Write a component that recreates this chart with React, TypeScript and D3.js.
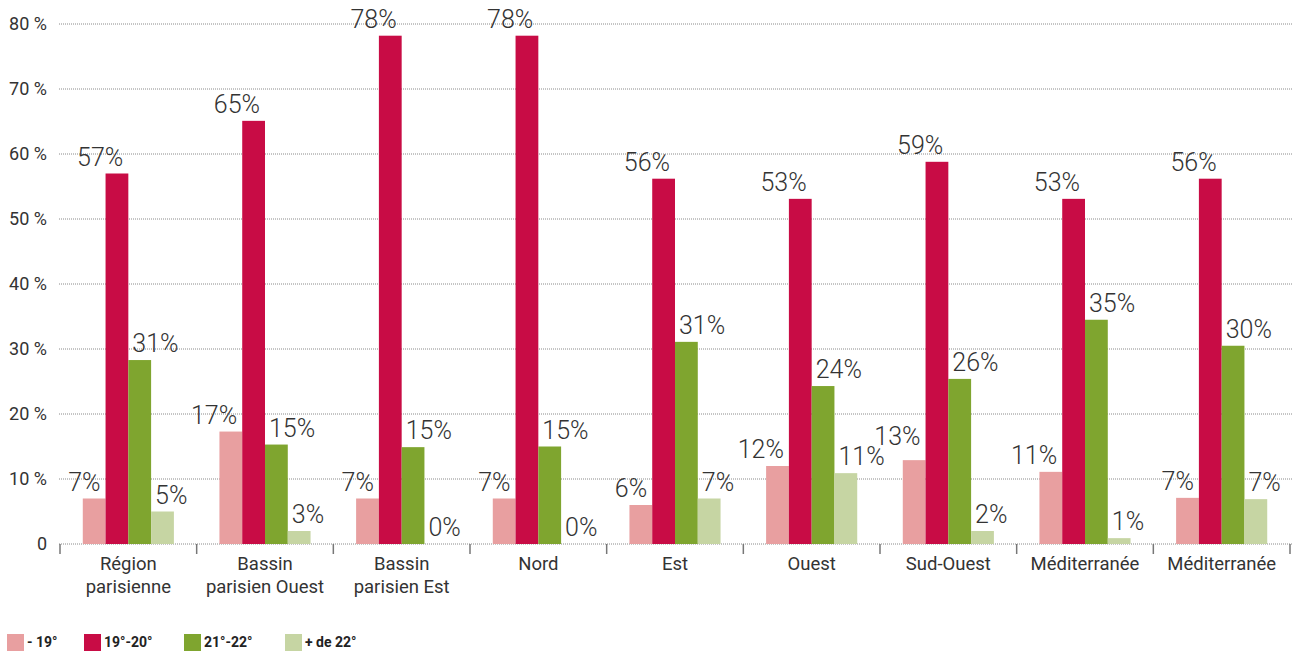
import React from "react";
import * as d3 from "d3";

const categories: string[][] = [
  ["Région", "parisienne"],
  ["Bassin", "parisien Ouest"],
  ["Bassin", "parisien Est"],
  ["Nord"],
  ["Est"],
  ["Ouest"],
  ["Sud-Ouest"],
  ["Méditerranée"],
  ["Méditerranée"],
];

const seriesNames = ["- 19°", "19°-20°", "21°-22°", "+ de 22°"];

// bar heights as drawn (percent)
const below19 = [7.0, 17.3, 7.0, 7.0, 6.0, 12.0, 12.9, 11.1, 7.1];
const t19to20 = [57.0, 65.1, 78.2, 78.2, 56.2, 53.1, 58.8, 53.1, 56.2];
const t21to22 = [28.3, 15.3, 14.9, 15.0, 31.1, 24.3, 25.4, 34.5, 30.5];
const above22 = [5.0, 2.0, 0, 0, 7.0, 10.9, 2.0, 0.9, 6.9];

// value labels as printed
const labBelow19 = ["7%", "17%", "7%", "7%", "6%", "12%", "13%", "11%", "7%"];
const lab19to20 = ["57%", "65%", "78%", "78%", "56%", "53%", "59%", "53%", "56%"];
const lab21to22 = ["31%", "15%", "15%", "15%", "31%", "24%", "26%", "35%", "30%"];
const labAbove22 = ["5%", "3%", "0%", "0%", "7%", "11%", "2%", "1%", "7%"];

const yTicks = [0, 10, 20, 30, 40, 50, 60, 70, 80];

const colors = ["#E89FA0", "#C80C45", "#7FA52F", "#C6D5A3"];

type Box = { x0: number; x1: number; y0: number; y1: number };

export default function App() {
  const W = 1303;
  const H = 652;
  const left = 60;
  const right = 1290;
  const y = d3.scaleLinear().domain([0, 80]).range([544, 24]);
  const x0 = d3
    .scaleBand<number>()
    .domain(categories.map((_, i) => i))
    .range([left, right])
    .padding(0);
  const x1 = d3
    .scaleBand<number>()
    .domain([0, 1, 2, 3])
    .range([0, x0.bandwidth()])
    .paddingInner(0)
    .paddingOuter(1);

  const values = [below19, t19to20, t21to22, above22];
  const labels = [labBelow19, lab19to20, lab21to22, labAbove22];
  const font = "Roboto, 'DejaVu Sans', sans-serif";
  const textColor = "#333333";
  const labelSize = 25;
  const capH = labelSize * 0.72;

  const legendX = [7, 84, 184, 285];

  // place value labels, lifting any that would collide with a label already placed
  const placed: { key: string; x: number; y: number; anchor: string; text: string }[] = [];
  const boxes: Box[] = [];
  categories.forEach((_, i) => {
    labels.forEach((labs, s) => {
      const l = labs[i];
      const bx = x0(i)! + x1(s)!;
      const isLeft = s < 2;
      const w = (l.length - 1) * 0.56 * labelSize + 0.72 * labelSize;
      const tx = isLeft ? bx + x1.bandwidth() - 5 : bx + 4;
      let ty = y(values[s][i]) - 8;
      const bxL = isLeft ? tx - w : tx;
      const bxR = bxL + w;
      for (const b of boxes) {
        if (bxL < b.x1 && bxR > b.x0 && ty - capH < b.y1 && ty > b.y0) {
          ty = b.y0 - 2;
        }
      }
      boxes.push({ x0: bxL, x1: bxR, y0: ty - capH, y1: ty });
      placed.push({ key: `l${s}-${i}`, x: tx, y: ty, anchor: isLeft ? "end" : "start", text: l });
    });
  });

  return (
    <svg
      width={W}
      height={H}
      style={{ position: "absolute", left: 0, top: 0, background: "#fff" }}
      fontFamily={font}
    >
      {/* gridlines */}
      {yTicks.map((t) => (
        <line
          key={"g" + t}
          x1={59}
          x2={1293}
          y1={y(t)}
          y2={y(t)}
          stroke="#8a8a8a"
          strokeWidth={1}
          strokeDasharray="1,1"
        />
      ))}
      {/* y labels */}
      {yTicks.map((t) => (
        <text
          key={"yl" + t}
          x={47}
          y={y(t)}
          dy="0.35em"
          textAnchor="end"
          fontSize={18}
          fill={textColor}
        >
          {t === 0 ? "0" : `${t}\u00a0%`}
        </text>
      ))}
      {/* x ticks */}
      {d3.range(categories.length + 1).map((i) => {
        const xx = i < categories.length ? x0(i)! : right;
        return (
          <line
            key={"xt" + i}
            x1={xx}
            x2={xx}
            y1={544}
            y2={554}
            stroke="#777"
            strokeWidth={1.5}
          />
        );
      })}
      {/* bars */}
      {values.map((vals, s) =>
        vals.map((v, i) => (
          <rect
            key={`b${s}-${i}`}
            x={x0(i)! + x1(s)!}
            y={y(v)}
            width={x1.bandwidth()}
            height={y(0) - y(v)}
            fill={colors[s]}
          />
        ))
      )}
      {/* value labels */}
      {placed.map((p) => (
        <text
          key={p.key}
          x={p.x}
          y={p.y}
          textAnchor={p.anchor}
          fontSize={labelSize}
          fontWeight={300}
          fill={textColor}
        >
          {p.text}
        </text>
      ))}
      {/* category labels */}
      {categories.map((lines, i) => (
        <text
          key={"c" + i}
          x={x0(i)! + x0.bandwidth() / 2}
          y={570}
          textAnchor="middle"
          fontSize={18.5}
          fill={textColor}
        >
          {lines.map((ln, j) => (
            <tspan key={j} x={x0(i)! + x0.bandwidth() / 2} dy={j === 0 ? 0 : 23}>
              {ln}
            </tspan>
          ))}
        </text>
      ))}
      {/* legend */}
      {seriesNames.map((n, s) => (
        <g key={"lg" + s} transform={`translate(${legendX[s]},634)`}>
          <rect x={0} y={0} width={17} height={17} fill={colors[s]} />
          <text x={20} y={13} fontSize={14} fontWeight="bold" fill="#222">
            {n}
          </text>
        </g>
      ))}
    </svg>
  );
}
